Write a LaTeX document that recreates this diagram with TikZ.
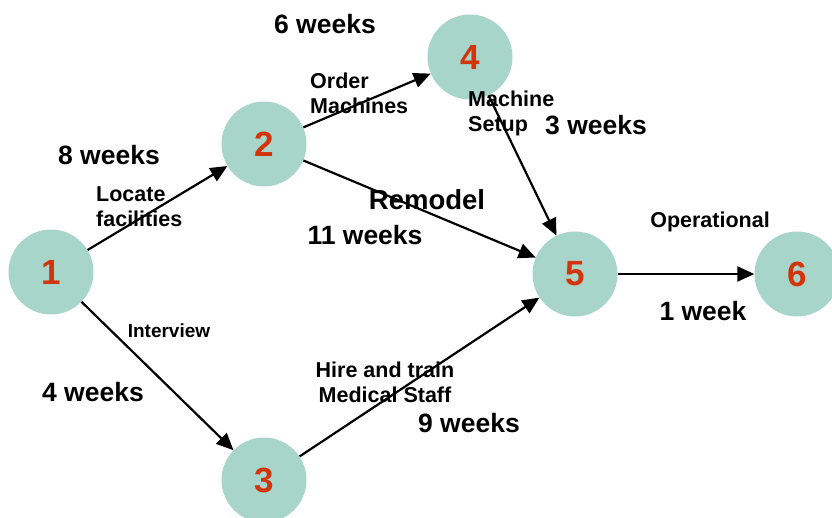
\documentclass[tikz,border=0pt]{standalone}
\usepackage{fontspec}
\setmainfont{Liberation Sans}
\usetikzlibrary{arrows.meta}
\definecolor{nodefill}{HTML}{A8D5CA}
\definecolor{numred}{HTML}{D2340C}
\tikzset{
  ev/.style={circle, fill=nodefill, minimum size=85pt, inner sep=0pt,
    font=\bfseries\fontsize{35}{35}\selectfont, text=numred},
  act/.style={line width=2.2pt, -{Triangle[length=17pt,width=15pt]}},
  wk/.style={font=\bfseries\fontsize{26.5}{28}\selectfont, inner sep=0pt},
  lbl/.style={font=\bfseries\fontsize{21.5}{25}\selectfont, inner sep=0pt},
}
\begin{document}
\begin{tikzpicture}[x=1pt,y=-1pt]
\useasboundingbox (0,0) rectangle (832,517);
\node[ev] (n1) at (51,272) {1};
\node[ev] (n2) at (264,144) {2};
\node[ev] (n3) at (264,480) {3};
\node[ev] (n4) at (470,57) {4};
\node[ev] (n5) at (575,274) {5};
\node[ev] (n6) at (797,274) {6};

\draw[act] (n1) -- (n2);
\draw[act] (n2) -- (n4);
\draw[act] (n2) -- (n5);
\draw[act] (n4) -- (n5);
\draw[act] (n5) -- (n6);
\draw[act] (n1) -- (n3);
\draw[act] (n3) -- (n5);

\node[wk] (w6) at (325,24) {6 weeks};
\node[lbl, align=left, anchor=west] (om) at (310,93) {Order\\Machines};
\node[lbl, align=left, anchor=west] (ms) at (468,113) {Machine\\Setup};
\node[wk] (w3) at (596,125) {3 weeks};
\node[wk] (w8) at (109,155) {8 weeks};
\node[lbl, align=left, anchor=west] (lf) at (96,207) {Locate\\facilities};
\node[font=\bfseries\fontsize{27.5}{28}\selectfont, inner sep=0pt] (rm) at (427,200) {Remodel};
\node[wk] (w11) at (365,235) {11 weeks};
\node[lbl] (op) at (710,222) {Operational};
\node[wk] (w1) at (703,311) {1 week};
\node[font=\bfseries\fontsize{19}{22}\selectfont, inner sep=0pt] (iv) at (169,331) {Interview};
\node[wk] (w4) at (93,392) {4 weeks};
\node[lbl, align=center] (ht) at (385,382) {Hire and train\\Medical Staff};
\node[wk] (w9) at (469,423) {9 weeks};
\end{tikzpicture}
\end{document}
